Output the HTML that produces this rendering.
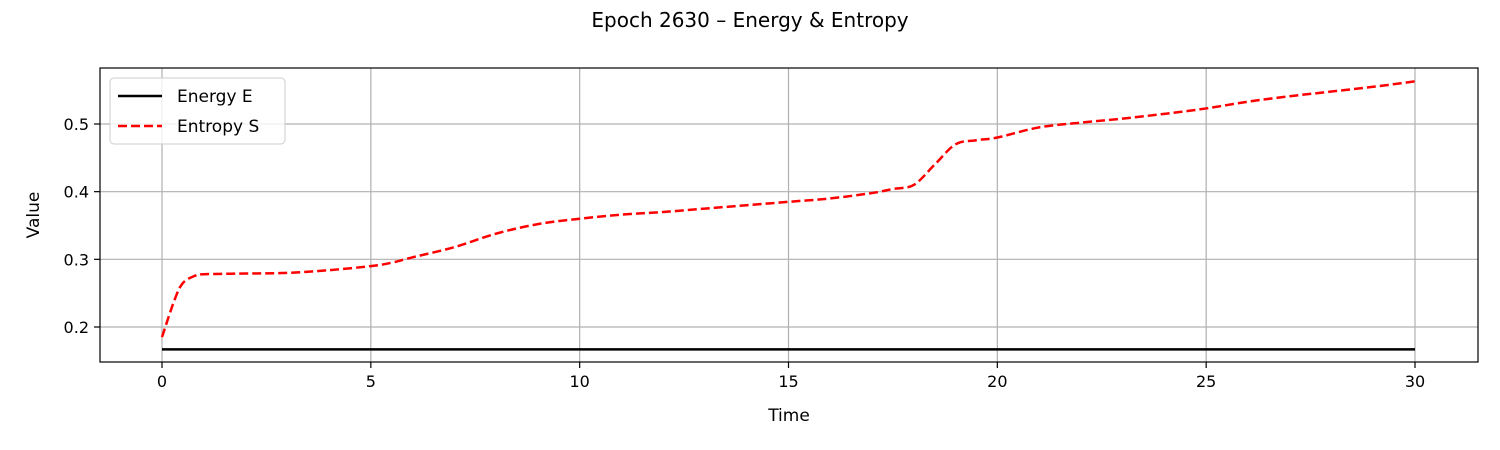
<!DOCTYPE html>
<html><head><meta charset="utf-8">
<style>
html,body{margin:0;padding:0;background:#fff;}
svg{display:block;font-family:"DejaVu Sans","Liberation Sans",sans-serif;}
</style></head>
<body>
<svg id="chart" width="1500" height="450" viewBox="0 0 1500 450">
<text x="750" y="27" text-anchor="middle" font-size="20" fill="#000">Epoch 2630 – Energy &amp; Entropy</text>
<g id="grid"></g>
<g id="series"></g>
<rect x="100" y="68" width="1378" height="294" fill="none" stroke="#000" stroke-width="1.2"/>
<g id="axes"></g>
<text x="789" y="421" text-anchor="middle" font-size="17">Time</text>
<text x="39" y="215" text-anchor="middle" font-size="17" transform="rotate(-90 39 215)">Value</text>
<g>
<rect x="110" y="78" width="175" height="66" rx="4" fill="#fff" fill-opacity="0.8" stroke="#ccc"/>
<line x1="118" y1="96" x2="162" y2="96" stroke="#000" stroke-width="2.5"/>
<text x="177" y="102" font-size="17">Energy E</text>
<line x1="118" y1="126" x2="162" y2="126" stroke="#f00" stroke-width="2.5" stroke-dasharray="9,4"/>
<text x="177" y="132" font-size="17">Entropy S</text>
</g>
</svg>
<script>
const xTicks = [0,5,10,15,20,25,30];
const yTicks = [0.2,0.3,0.4,0.5];
const yTickLabels = ["0.2","0.3","0.4","0.5"];
const times = [0,0.3,0.5,0.8,1,2,3,4,5,5.5,6,7,8,9,10,11,12,13,14,15,16,17,17.5,18,18.5,19,19.5,20,21,22,23,24,25,26,27,28,29,30];
const entropy = [0.185,0.24,0.265,0.276,0.278,0.279,0.28,0.284,0.29,0.295,0.303,0.318,0.338,0.352,0.36,0.366,0.37,0.375,0.38,0.385,0.39,0.398,0.404,0.41,0.44,0.47,0.476,0.48,0.495,0.502,0.508,0.515,0.523,0.533,0.541,0.548,0.555,0.563];
const energyValue = [0.167];

const NS="http://www.w3.org/2000/svg";
function xs(t){return 162+(t-0)*(1415-162)/30;}
function ys(v){return 327-(v-0.2)*(327-124)/0.3;}
function mk(tag,attrs,parent){const e=document.createElementNS(NS,tag);for(const k in attrs)e.setAttribute(k,attrs[k]);parent.appendChild(e);return e;}
const grid=document.getElementById('grid'),axes=document.getElementById('axes'),series=document.getElementById('series');
xTicks.forEach(t=>{
  const x=xs(t);
  const g=mk('line',{x1:x,y1:68,x2:x,y2:362,stroke:'#b0b0b0','stroke-width':1.2},grid);
  
  
  const tk=mk('line',{x1:x,y1:362,x2:x,y2:368,stroke:'#000','stroke-width':1.2},axes);
  
  
  const tx=mk('text',{x:x,y:387,'text-anchor':'middle','font-size':16},axes);
  tx.textContent=t;
  
  
});
yTicks.forEach((v,i)=>{
  const y=ys(v);
  const g=mk('line',{x1:100,y1:y,x2:1478,y2:y,stroke:'#b0b0b0','stroke-width':1.2},grid);
  
  
  const tk=mk('line',{x1:94,y1:y,x2:100,y2:y,stroke:'#000','stroke-width':1.2},axes);
  
  
  const tx=mk('text',{x:89,y:y+6,'text-anchor':'end','font-size':16},axes);
  tx.textContent=yTickLabels[i];
  
  
});
const eLine=mk('line',{x1:xs(times[0]),y1:ys(energyValue[0]),x2:xs(times[times.length-1]),y2:ys(energyValue[0]),stroke:'#000','stroke-width':2.5},series);


const pts=times.map((t,i)=>[xs(t),ys(entropy[i])]);
let d='M'+pts[0][0]+','+pts[0][1];
for(let i=0;i<pts.length-1;i++){
  const p0=pts[Math.max(0,i-1)],p1=pts[i],p2=pts[i+1],p3=pts[Math.min(pts.length-1,i+2)];
  const c1=[p1[0]+(p2[0]-p0[0])/6,p1[1]+(p2[1]-p0[1])/6];
  const c2=[p2[0]-(p3[0]-p1[0])/6,p2[1]-(p3[1]-p1[1])/6];
  d+=' C'+c1+' '+c2+' '+p2;
}
const sLine=mk('path',{d:d,fill:'none',stroke:'#f00','stroke-width':2.5,'stroke-dasharray':'9,4'},series);


</script>
</body></html>
